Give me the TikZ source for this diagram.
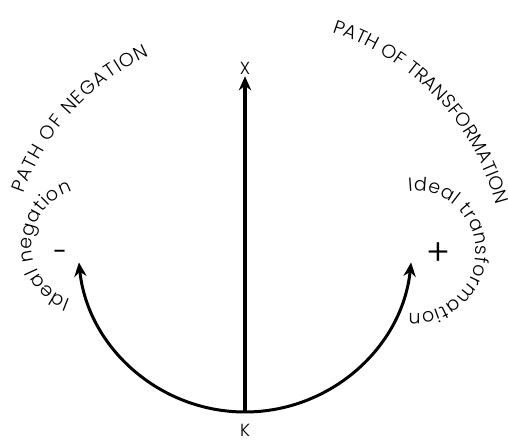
\documentclass[tikz,border=0pt]{standalone}
\usepackage{fontspec}
\setmainfont{Poppins Light}
\newfontfamily\signfont{Poppins}
\usepackage{tikz}
\usetikzlibrary{arrows.meta, decorations.text}
\definecolor{mydark}{RGB}{0,0,0}
\tikzset{
  arrow/.style={-{Stealth[length=8pt, width=7pt]}, line width=1.7pt, color=mydark},
  mainarrow/.style={-{Stealth[length=8pt, width=7pt]}, line width=2.2pt, color=mydark},
  pole/.style={font=\fontsize{10}{12}\selectfont, inner sep=1pt, color=mydark},
  sign/.style={inner sep=0pt, color=mydark},
  curvetext/.style={decorate, decoration={text along path, text align=fit to path,
    text={|\fontsize{10.8}{13}\selectfont|#1}}}
}

\begin{document}
\begin{tikzpicture}[x=0.02cm, y=0.02cm]
  \useasboundingbox (0,0) rectangle (508,442);

  % Centres of the arcs
  \coordinate (o) at (245,197);
  \coordinate (negc) at (89,196);
  \coordinate (trfc) at (415,190);
  \coordinate (leftc) at (245,172);
  \coordinate (rightc) at (255,172);

  % Nodes
  \coordinate (bot) at (245,30);
  \node[pole] (k) at (245,12) {K};
  \node[pole] (x) at (245,374) {X};
  \node[sign, font=\signfont\Large] (minus) at (60,187) {-};
  \node[sign, font=\huge] (plus) at (438,188) {+};

  % Arrows
  \draw[mainarrow] (bot) -- (x.south);
  \draw[arrow] (bot) arc[start angle=270, end angle=186, radius=167];
  \draw[arrow] (bot) arc[start angle=270, end angle=354, radius=167];

  % Labels along the paths
  \path[curvetext={PATH OF NEGATION}]
    ([shift={(161:234)}]leftc) arc[start angle=161, end angle=114, radius=234];
  \path[curvetext={PATH OF TRANSFORMATION}]
    ([shift={(72:250)}]rightc) arc[start angle=72, end angle=15, radius=250];
  \path[curvetext={Ideal negation}]
    ([shift={(251:57)}]negc) arc[start angle=251, end angle=107, radius=57];
  \path[curvetext={Ideal transformation}]
    ([shift={(96:61)}]trfc) arc[start angle=96, end angle=-96, radius=61];
\end{tikzpicture}
\end{document}
